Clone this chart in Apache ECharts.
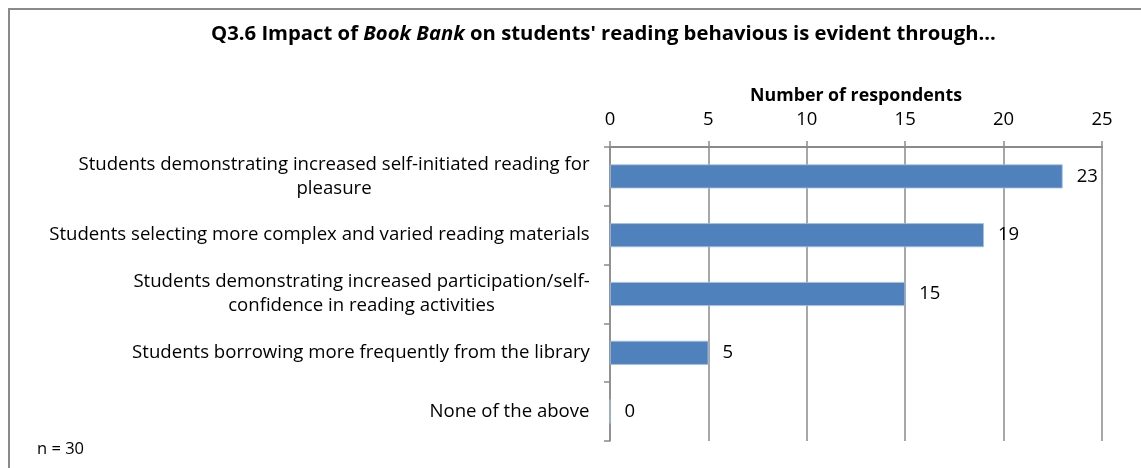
<!DOCTYPE html>
<html><head><meta charset="utf-8">
<script src="https://cdn.jsdelivr.net/npm/echarts@6/dist/echarts.min.js"></script>
<style>html,body{margin:0;padding:0;background:#fff}#c{width:1141px;height:468px}</style>
</head><body><div id="c"></div>
<script>
const categories = [
  "Students demonstrating increased self-initiated reading for\npleasure",
  "Students selecting more complex and varied reading materials",
  "Students demonstrating increased participation/self-\nconfidence in reading activities",
  "Students borrowing more frequently from the library",
  "None of the above"
];
const values = [23, 19, 15, 5, 0];
const xTicks = [0, 5, 10, 15, 20, 25];

const FONT = "Open Sans";
const LBL_SIZE = 18.6;
const ctx = document.createElement('canvas').getContext('2d');
ctx.font = LBL_SIZE + "px '" + FONT + "'";
const rich = {};
categories.forEach((c, i) => {
  const w = Math.max(...c.split('\n').map(l => ctx.measureText(l).width));
  rich['c' + i] = {width: Math.ceil(w), align: 'center', fontFamily: FONT, fontSize: LBL_SIZE, color: '#000', lineHeight: 24};
});

const chart = echarts.init(document.getElementById('c'));
chart.setOption({
  animation: false,
  title: {
    text: '{b|Q3.6 Impact of }{i|Book Bank}{b| on students\' reading behavious is evident through...}',
    left: 206, top: 19,
    textStyle: {
      rich: {
        b: {fontFamily: FONT, fontSize: 20.3, fontWeight: 'bold', color: '#000'},
        i: {fontFamily: FONT, fontSize: 20.3, fontWeight: 'bold', fontStyle: 'italic', color: '#000'}
      }
    }
  },
  graphic: [
    {type: 'rect', shape: {x: 9, y: 9, width: 1160, height: 480}, style: {fill: 'none', stroke: '#8a8a8a', lineWidth: 2}, silent: true},
    {type: 'text', left: 37, top: 441, style: {text: 'n = 30', fontFamily: FONT, fontSize: 16.5, fill: '#000'}}
  ],
  grid: {left: 610, right: 39, top: 147, bottom: 27},
  xAxis: {
    type: 'value', position: 'top', min: xTicks[0], max: xTicks[xTicks.length - 1], interval: 5,
    name: 'Number of respondents', nameLocation: 'middle', nameGap: 42,
    nameTextStyle: {fontFamily: FONT, fontSize: 17.8, fontWeight: 'bold', color: '#000'},
    axisLine: {show: true, lineStyle: {color: '#8a8a8a', width: 2}},
    axisTick: {show: true, length: 6, lineStyle: {color: '#8a8a8a', width: 1.5}},
    axisLabel: {margin: 18, fontFamily: FONT, fontSize: 18.5, color: '#000'},
    splitLine: {show: true, lineStyle: {color: '#8a8a8a', width: 1.5}}
  },
  yAxis: {
    type: 'category', inverse: true, data: categories,
    axisLine: {show: true, lineStyle: {color: '#8a8a8a', width: 1.5}},
    axisTick: {show: true, length: 6, lineStyle: {color: '#8a8a8a', width: 1.5}},
    axisLabel: {
      margin: 20, align: 'right',
      formatter: (v, i) => v.split('\n').map(l => '{c' + i + '|' + l + '}').join('\n'),
      rich: rich
    }
  },
  series: [{
    type: 'bar', data: values, barWidth: 24,
    itemStyle: {color: '#4F81BD', borderColor: '#a7bfe0', borderWidth: 0.8},
    label: {show: true, position: 'right', distance: 14, fontFamily: FONT, fontSize: 18.5, color: '#000'}
  }]
});
</script></body></html>
